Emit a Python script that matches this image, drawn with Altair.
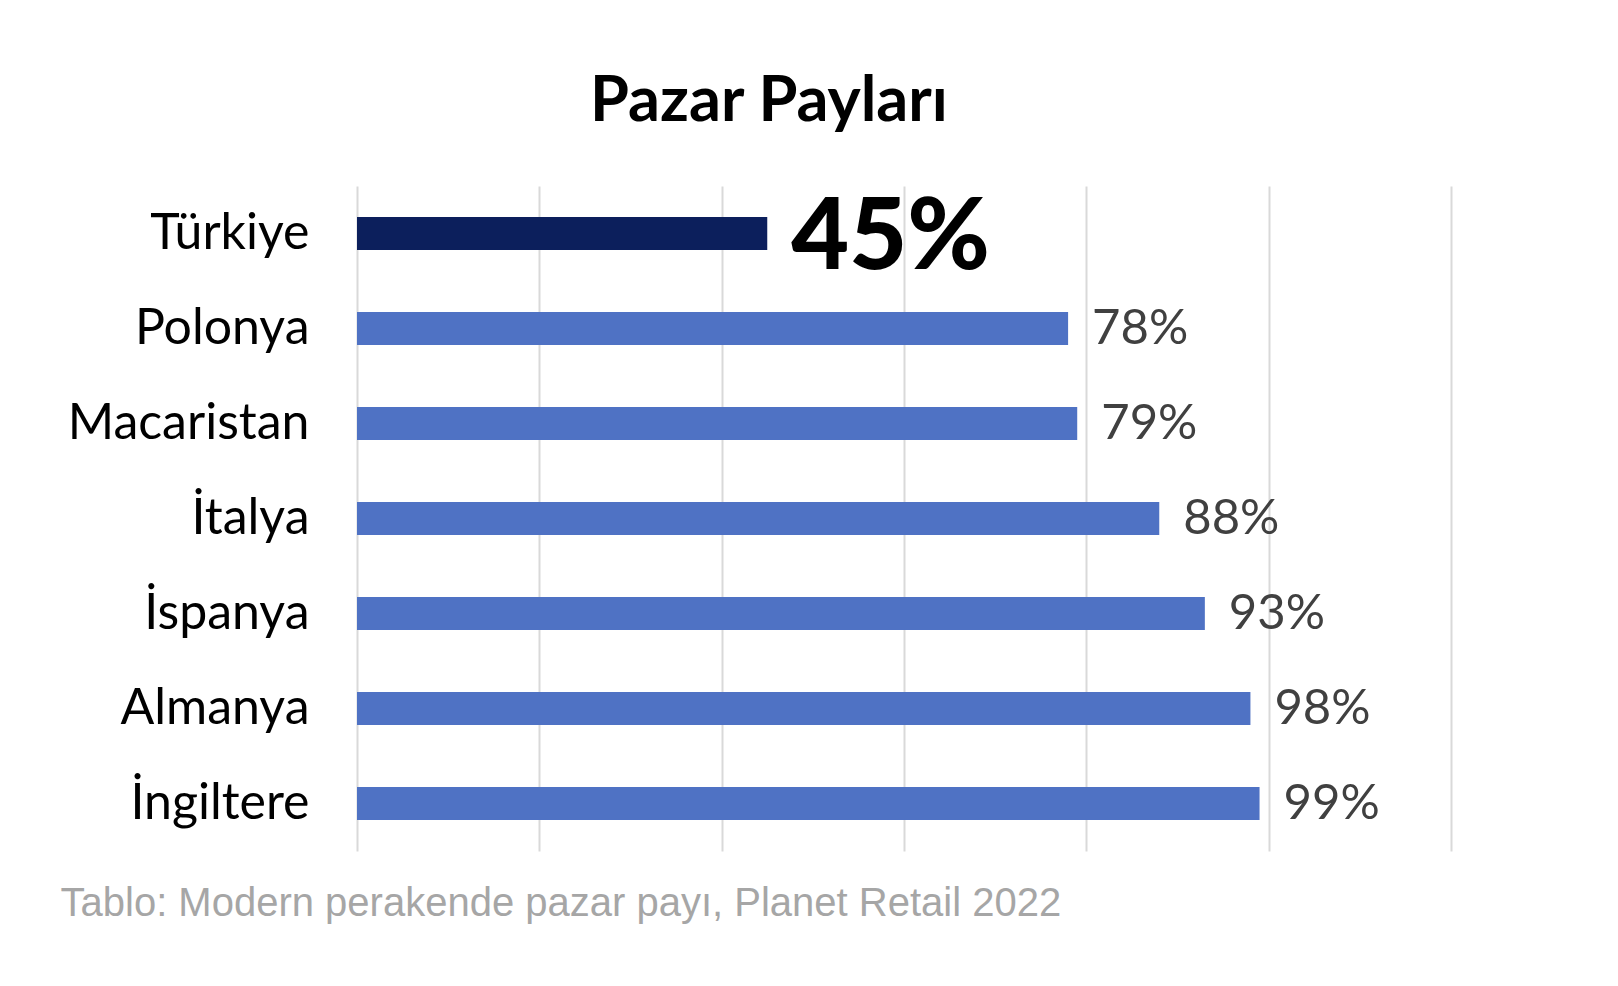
import altair as alt
import pandas as pd

countries = ["Türkiye", "Polonya", "Macaristan", "İtalya", "İspanya", "Almanya", "İngiltere"]
shares = [45, 78, 79, 88, 93, 98, 99]
labels = ["45%", "78%", "79%", "88%", "93%", "98%", "99%"]
highlight = ["Türkiye"]

df = pd.DataFrame({"country": countries, "share": shares, "label": labels})
df["hl"] = df["country"].isin(highlight)

y_enc = alt.Y("country:N", sort=countries, title=None,
              scale=alt.Scale(paddingInner=0, paddingOuter=0),
              axis=alt.Axis(domain=False, ticks=False, grid=False, labelPadding=48, labelLimit=0,
                            labelFont="Lato", labelFontSize=50, labelColor="#000000",
                            labelFontWeight="normal"))
x_enc = alt.X("share:Q", scale=alt.Scale(domain=[0, 120], nice=False),
              title="Tablo: Modern perakende pazar payı, Planet Retail 2022",
              axis=alt.Axis(values=[0, 20, 40, 60, 80, 100, 120], labels=False, ticks=False,
                            domain=False, grid=True, gridColor="#d9d9d9", gridWidth=2,
                            titleFont="Liberation Sans", titleFontSize=40, titleColor="#a6a6a6",
                            titleFontWeight="normal", titleAnchor="start", titleAlign="left",
                            titleBaseline="alphabetic", titleX=-297, titleY=64))

base = alt.Chart(df)

bars = base.mark_bar(size=33).encode(
    x=x_enc, y=y_enc,
    color=alt.Color("hl:N", scale=alt.Scale(domain=[True, False], range=["#0c1f5c", "#4f72c4"]), legend=None),
)

txt_others = base.transform_filter(alt.datum.hl == False).mark_text(
    align="left", baseline="middle", dx=24, font="Lato", fontSize=49, color="#404040"
).encode(x="share:Q", y=alt.Y("country:N", sort=countries), text="label:N")

txt_tr = base.transform_filter(alt.datum.hl == True).mark_text(
    align="left", baseline="middle", dx=24, dy=5, font="Lato", fontSize=100, fontWeight=900, color="#000000"
).encode(x="share:Q", y=alt.Y("country:N", sort=countries), text="label:N")

chart = alt.layer(bars, txt_others, txt_tr).properties(
    width=1094, height=665,
    title=alt.TitleParams("Pazar Payları", anchor="start", frame="group", dx=233, offset=2, font="Lato",
                          fontSize=63, fontWeight="bold", color="#000000", baseline="alphabetic"),
    autosize=alt.AutoSizeParams(type="none"),
    padding={"left": 349, "top": 178, "right": 150, "bottom": 120},
    background="white",
).configure_view(stroke=None)

chart.save("out.html", embed_options={"renderer": "svg", "actions": False})
